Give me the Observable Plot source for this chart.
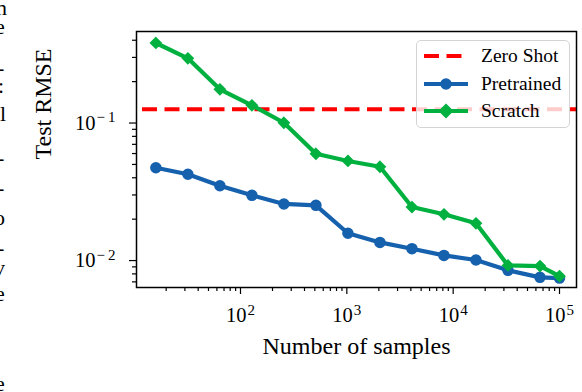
<!DOCTYPE html>
<html><head><meta charset="utf-8">
<script src="https://cdn.jsdelivr.net/npm/d3@7"></script>
<script src="https://cdn.jsdelivr.net/npm/@observablehq/plot@0.6"></script>
<style>
body{margin:0;background:#fff;}
#wrap{position:relative;width:582px;height:392px;overflow:hidden;font-family:"Liberation Serif",serif;}
#legend{position:absolute;left:416px;top:40px;width:154px;height:88px;box-sizing:border-box;background:rgba(255,255,255,0.8);border:1.3px solid #d4d4d4;border-radius:5px;}
#legend .row{position:absolute;left:6px;height:24px;display:flex;align-items:center;}
#legend .row span{margin-left:12px;font-size:19.5px;color:#000;}
</style></head><body><div id="wrap"></div>
<script>
const samples = [16,32,64,128,256,512,1024,2048,4096,8192,16384,32768,65536,100000];
const pretrained = [0.0473,0.0424,0.0350,0.0298,0.0258,0.0252,0.0158,0.01355,0.0122,0.0109,0.0101,0.00849,0.00755,0.00746];
const scratch = [0.382,0.2955,0.176,0.1345,0.1005,0.0598,0.0530,0.0481,0.0245,0.0217,0.01866,0.00922,0.00912,0.0077];
const zeroShot = 0.126;
const seriesNames = ["Zero Shot","Pretrained","Scratch"];
const seriesColors = ["#ff0000","#1661ad","#00b140"];
const xMajor = [100,1000,10000,100000];
const xMajorLabels = ["10^2","10^3","10^4","10^5"];
const yMajor = [0.01,0.1];
const yMajorLabels = ["10^\u22122","10^\u22121"];
const xTitle = "Number of samples";
const yTitle = "Test RMSE";
const marginFrags = [["n",0,-4],["e",19,-5],["-",60,-3],[":",78,-2],["l",106,0],["-",150,-3],["-",180,-3],["o",210,-6],["-",240,-3],["v",260,-6],["e",286,-5],["e",376,-5]];

const xDomain = [10.52, 144500];
const yDomain = [0.00637, 0.463];
const minorOf = (lo, hi) => {
  const out = [];
  for (let e = Math.floor(Math.log10(lo)); e <= Math.ceil(Math.log10(hi)); e++)
    for (let k = 2; k <= 9; k++) { const v = k * Math.pow(10, e); if (v >= lo && v <= hi) out.push(v); }
  return out;
};
const xMinor = minorOf(xDomain[0], xDomain[1]);
const yMinor = minorOf(yDomain[0], yDomain[1]);

const pre = samples.map((x,i)=>({x, y: pretrained[i]}));
const scr = samples.map((x,i)=>({x, y: scratch[i]}));

const fmt = (ticks, labels) => d => { const i = ticks.findIndex(t => Math.abs(t-d)/t < 1e-6); return i >= 0 ? labels[i] : ""; };

const chart = Plot.plot({
  width: 582, height: 392,
  marginLeft: 136, marginRight: 6, marginTop: 31, marginBottom: 105,
  style: {fontFamily: "Liberation Serif, serif", fontSize: "20.5px", color: "#000", background: "transparent"},
  x: {type: "log", domain: xDomain},
  y: {type: "log", domain: yDomain},
  marks: [
    Plot.ruleY([zeroShot], {stroke: seriesColors[0], strokeWidth: 4, strokeDasharray: "15,7.5", strokeDashoffset: 16.5}),
    Plot.line(pre, {x: "x", y: "y", stroke: seriesColors[1], strokeWidth: 4.2}),
    Plot.dot(pre, {x: "x", y: "y", r: 5, fill: seriesColors[1], stroke: seriesColors[1], strokeWidth: 1.5}),
    Plot.line(scr, {x: "x", y: "y", stroke: seriesColors[2], strokeWidth: 4.2}),
    Plot.dot(scr, {x: "x", y: "y", symbol: "diamond2", r: 4.8, fill: seriesColors[2], stroke: seriesColors[2], strokeWidth: 1.5}),
    Plot.axisX({ticks: xMinor, tickSize: 4, tickFormat: () => "", label: null, strokeWidth: 1.2}),
    Plot.axisX({ticks: xMajor, tickSize: 7, tickPadding: 13, tickFormat: fmt(xMajor, xMajorLabels), label: null, strokeWidth: 1.2}),
    Plot.axisY({ticks: yMinor, tickSize: 4, tickFormat: () => "", label: null, strokeWidth: 1.2}),
    Plot.axisY({ticks: yMajor, tickSize: 7, tickPadding: 14, tickFormat: fmt(yMajor, yMajorLabels), label: null, strokeWidth: 1.2}),
    Plot.frame({stroke: "#000", strokeWidth: 1.5}),
    Plot.text([xTitle], {frameAnchor: "bottom", dy: 59, text: d => d, fontSize: 24, lineAnchor: "middle"}),
    Plot.text([yTitle], {frameAnchor: "left", dx: -93, rotate: -90, text: d => d, fontSize: 24, lineAnchor: "middle"})
  ]
});

// superscripts in tick labels
d3.select(chart).selectAll("text").each(function(){
  const t = d3.select(this);
  const s = t.text();
  if (!s.includes("^")) return;
  const [b, e] = s.split("^");
  t.text(null);
  t.append("tspan").text(b);
  if (e.startsWith("\u2212")) {
    t.append("tspan").attr("dy", "-7.5").attr("dx", "1").attr("font-size", "15px").text("\u2212");
    t.append("tspan").attr("dx", "3").attr("font-size", "15px").text(e.slice(1));
  } else {
    t.append("tspan").attr("dy", "-7.5").attr("dx", "1").attr("font-size", "15px").text(e);
  }
});

const wrap = document.getElementById("wrap");
// cropped text fragments at the left page edge
marginFrags.forEach(([ch, top, left]) => {
  const s = document.createElement("span");
  s.textContent = ch;
  s.setAttribute("style", `position:absolute;top:${top}px;left:${left}px;font-size:22px;line-height:16px;color:#000;font-family:'Liberation Serif',serif;`);
  wrap.appendChild(s);
});
wrap.appendChild(chart);
chart.style.position = "absolute"; chart.style.left = "0"; chart.style.top = "0";

// legend
const legend = document.createElement("div");
legend.id = "legend";
const rowTops = [3, 31, 58];
seriesNames.forEach((name, i) => {
  const row = document.createElement("div");
  row.className = "row";
  row.style.top = rowTops[i] + "px";
  const c = seriesColors[i];
  let sw = `<svg width="46" height="24" style="overflow:visible">`;
  if (i === 0) sw += `<line x1="1" x2="45" y1="12" y2="12" stroke="${c}" stroke-width="4" stroke-dasharray="15,7.5"/>`;
  else sw += `<line x1="1" x2="45" y1="12" y2="12" stroke="${c}" stroke-width="4"/>`;
  if (i === 1) sw += `<circle cx="23" cy="12" r="5" fill="${c}" stroke="${c}" stroke-width="1.5"/>`;
  if (i === 2) sw += `<path d="M23,5.5L29.5,12L23,18.5L16.5,12Z" fill="${c}" stroke="${c}" stroke-width="1.5"/>`;
  sw += `</svg>`;
  row.innerHTML = sw + `<span>${name}</span>`;
  legend.appendChild(row);
});
wrap.appendChild(legend);
</script></body></html>
